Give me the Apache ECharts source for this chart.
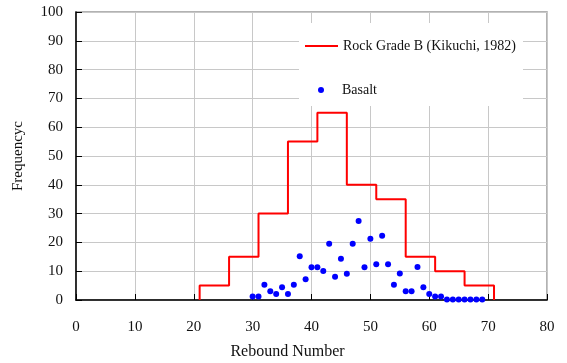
<!DOCTYPE html>
<html>
<head>
<meta charset="utf-8">
<script src="https://cdn.jsdelivr.net/npm/echarts@6/dist/echarts.min.js"></script>
<style>
html,body{margin:0;padding:0;background:#fff;}
#chart{width:567px;height:363px;}
</style>
</head>
<body>
<div id="chart"></div>
<script>
// Rock Grade B (Kikuchi, 1982) histogram: bin edges and frequencies
var binEdges = [21, 26, 31, 36, 41, 46, 51, 56, 61, 66, 71];
var binFreq  = [5, 15, 30, 55, 65, 40, 35, 15, 10, 5];
// Basalt measurements
var basaltX = [30,31,32,33,34,35,36,37,38,39,40,41,42,43,44,45,46,47,48,49,50,51,52,53,54,55,56,57,58,59,60,61,62,63,64,65,66,67,68,69];
var basaltY = [1.2,1.2,5.3,3,2.1,4.4,2.1,5.3,15.2,7.2,11.4,11.4,10.1,19.5,8.1,14.3,9.1,19.5,27.4,11.4,21.3,12.4,22.3,12.4,5.3,9.2,3,3,11.5,4.4,2.1,1.2,1.2,0.2,0.2,0.2,0.2,0.2,0.2,0.2];
var xTicks = [0,10,20,30,40,50,60,70,80];
var yTicks = [0,10,20,30,40,50,60,70,80,90,100];
var seriesNames = ['Rock Grade B (Kikuchi, 1982)', 'Basalt'];

var stepData = [[binEdges[0], 0]];
for (var i = 0; i < binFreq.length; i++) {
  stepData.push([binEdges[i], binFreq[i]]);
  stepData.push([binEdges[i+1], binFreq[i]]);
}
stepData.push([binEdges[binEdges.length-1], 0]);
var scatterData = basaltX.map(function(x, i){ return [x, basaltY[i]]; });

var FONT = 'Liberation Serif';
var chart = echarts.init(document.getElementById('chart'), null, {renderer:'canvas'});
chart.setOption({
  animation: false,
  backgroundColor: '#fff',
  grid: {left: 76, right: 20, top: 12, bottom: 63, show: true, borderColor: '#999', borderWidth: 1.5, backgroundColor: 'transparent', containLabel: false, outerBoundsMode: 'none'},
  legend: [
    {
      left: 299, top: 23,
      orient: 'vertical',
      backgroundColor: '#fff',
      padding: [16, 7, 53, 6],
      icon: 'rect',
      itemWidth: 33, itemHeight: 2,
      textStyle: {fontFamily: FONT, fontSize: 14, color: '#111'},
      data: [seriesNames[0]],
      z: 5
    },
    {
      left: 318, top: 83,
      orient: 'vertical',
      padding: 0,
      icon: 'circle',
      itemWidth: 6, itemHeight: 6,
      textStyle: {fontFamily: FONT, fontSize: 14, color: '#111', padding: [0, 0, 0, 13]},
      data: [seriesNames[1]],
      z: 10
    }
  ],
  xAxis: {
    type: 'value', min: xTicks[0], max: xTicks[xTicks.length-1], interval: 10,
    name: 'Rebound Number', nameLocation: 'middle', nameGap: 44,
    nameTextStyle: {fontFamily: FONT, fontSize: 16, color: '#111', padding: [0, 48, 0, 0]},
    axisLine: {lineStyle: {color: '#000', width: 1.5}},
    axisTick: {inside: true, length: 6, lineStyle: {color: '#000'}},
    axisLabel: {fontFamily: FONT, fontSize: 15, color: '#111', margin: 20},
    splitLine: {show: true, lineStyle: {color: '#c8c8c8', width: 1}}
  },
  yAxis: {
    type: 'value', min: yTicks[0], max: yTicks[yTicks.length-1], interval: 10,
    name: 'Frequencyc', nameLocation: 'middle', nameGap: 50, nameRotate: 90,
    nameTextStyle: {fontFamily: FONT, fontSize: 15, color: '#111'},
    axisLine: {show: true, lineStyle: {color: '#000', width: 1.5}},
    axisTick: {show: true, inside: true, length: 6, lineStyle: {color: '#000'}},
    axisLabel: {fontFamily: FONT, fontSize: 15, color: '#111', margin: 13},
    splitLine: {show: true, lineStyle: {color: '#c8c8c8', width: 1}}
  },
  series: [
    {
      name: seriesNames[0], type: 'line', data: stepData,
      symbol: 'none', lineStyle: {color: '#ff0000', width: 2}, itemStyle: {color: '#ff0000'}, z: 2
    },
    {
      name: seriesNames[1], type: 'scatter', data: scatterData,
      symbol: 'circle', symbolSize: 6, itemStyle: {color: '#0000ff', opacity: 1}, z: 3
    }
  ]
});
</script>
</body>
</html>
